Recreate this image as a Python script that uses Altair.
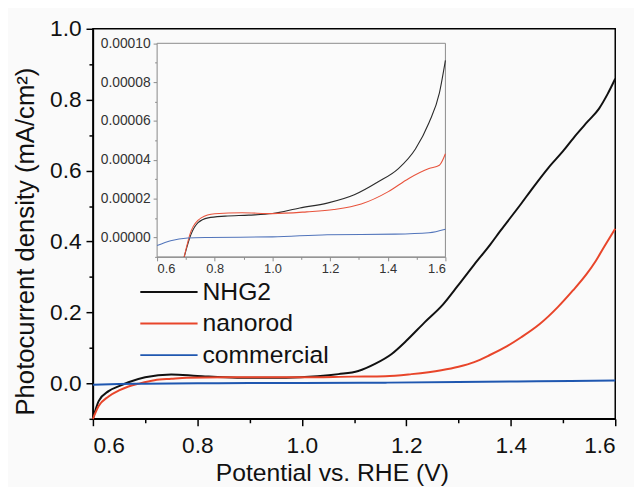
import altair as alt
import pandas as pd

# ---------------- main panel data ----------------
nhg2_v = [0.6, 0.611, 0.63, 0.65, 0.668, 0.70, 0.75, 0.80, 0.876, 0.97, 1.03, 1.07, 1.108, 1.14,
          1.172, 1.2, 1.235, 1.27, 1.298, 1.33, 1.361, 1.38, 1.418, 1.443, 1.472, 1.50, 1.525,
          1.547, 1.569, 1.585, 1.60]
nhg2_j = [-0.10, -0.05, -0.022, -0.008, 0.003, 0.017, 0.025, 0.021, 0.016, 0.016, 0.020, 0.026,
          0.035, 0.055, 0.083, 0.12, 0.172, 0.222, 0.274, 0.335, 0.392, 0.43, 0.503, 0.553,
          0.608, 0.655, 0.701, 0.738, 0.775, 0.815, 0.859]

nano_v = [0.6, 0.611, 0.63, 0.65, 0.668, 0.69, 0.718, 0.75, 0.78, 0.85, 0.91, 1.0, 1.097, 1.16,
          1.21, 1.267, 1.30, 1.33, 1.36, 1.393, 1.42, 1.456, 1.49, 1.519, 1.545, 1.563, 1.58, 1.60]
nano_j = [-0.10, -0.064, -0.037, -0.02, -0.009, 0.0, 0.009, 0.013, 0.016, 0.017, 0.017, 0.017,
          0.019, 0.020, 0.026, 0.037, 0.047, 0.060, 0.08, 0.105, 0.13, 0.168, 0.215, 0.262, 0.308,
          0.346, 0.388, 0.436]

comm_v = [0.6, 0.65, 0.7, 0.8, 0.9, 1.0, 1.16, 1.3, 1.45, 1.6]
comm_j = [-0.004, -0.002, -0.001, 0.0, 0.001, 0.001, 0.002, 0.004, 0.006, 0.008]

# ---------------- inset data ----------------
in_nhg2_v = [0.694, 0.718, 0.742, 0.777, 0.836, 0.918, 1.0, 1.095, 1.19, 1.284, 1.367, 1.437,
             1.496, 1.543, 1.579, 1.60]
in_nhg2_j = [-0.0000100, 0.0000017, 0.0000076, 0.0000101, 0.0000110, 0.0000115, 0.0000123,
             0.0000152, 0.0000177, 0.0000220, 0.0000287, 0.0000355, 0.0000456, 0.0000591,
             0.0000743, 0.0000912]

in_nano_v = [0.694, 0.718, 0.753, 0.80, 0.895, 1.0, 1.119, 1.213, 1.308, 1.402, 1.473, 1.543,
             1.579, 1.60]
in_nano_j = [-0.0000100, 0.0000034, 0.0000101, 0.0000122, 0.0000127, 0.0000123, 0.0000132,
             0.0000144, 0.0000172, 0.0000236, 0.0000304, 0.0000355, 0.0000372, 0.0000431]

in_comm_v = [0.6, 0.647, 0.706, 0.777, 1.0, 1.19, 1.425, 1.543, 1.6]
in_comm_j = [-0.0000042, -0.0000017, -0.0000003, 0.0, 0.0000003, 0.0000014, 0.0000017,
             0.0000024, 0.0000042]

series = ["NHG2", "nanorod", "commercial"]
main_colors = ["#111111", "#e8452a", "#1f57b0"]
inset_colors = ["#2a2a2a", "#e8533c", "#5275bb"]

main_x_domain = [0.6, 1.6]
main_y_domain = [-0.1, 1.0]
main_x_ticks = [0.6, 0.7, 0.8, 0.9, 1.0, 1.1, 1.2, 1.3, 1.4, 1.5, 1.6]
main_y_ticks = [-0.1, 0.0, 0.1, 0.2, 0.3, 0.4, 0.5, 0.6, 0.7, 0.8, 0.9, 1.0]

inset_x_domain = [0.6, 1.6]
inset_y_domain = [-0.00001, 0.0001]
inset_x_ticks = [0.6, 0.7, 0.8, 0.9, 1.0, 1.1, 1.2, 1.3, 1.4, 1.5, 1.6]
inset_y_ticks = [-0.00001, 0.0, 0.00001, 0.00002, 0.00003, 0.00004, 0.00005, 0.00006,
                 0.00007, 0.00008, 0.00009, 0.0001]


def long(vs, js, name):
    return pd.DataFrame({"V": vs, "J": js, "series": name, "order": range(len(vs))})


main_df = pd.concat([
    long(nhg2_v, nhg2_j, "NHG2"),
    long(nano_v, nano_j, "nanorod"),
    long(comm_v, comm_j, "commercial"),
])
inset_df = pd.concat([
    long(in_nhg2_v, in_nhg2_j, "NHG2"),
    long(in_nano_v, in_nano_j, "nanorod"),
    long(in_comm_v, in_comm_j, "commercial"),
])
frame_df = pd.DataFrame({"x0": [inset_x_domain[0]], "x1": [inset_x_domain[1]],
                         "y0": [inset_y_domain[0]], "y1": [inset_y_domain[1]]})

W, H = 529, 395
FONT = "Liberation Sans"

main_major_x = "round(datum.value*10) % 2 === 0"
main = alt.Chart(main_df).mark_line(strokeWidth=2, interpolate="monotone").encode(
    x=alt.X("V:Q", scale=alt.Scale(domain=main_x_domain, nice=False, zero=False),
            axis=alt.Axis(values=main_x_ticks, title="Potential vs. RHE (V)",
                          labelExpr=f"{main_major_x} ? format(datum.value, '.1f') : ''",
                          tickSize={"condition": {"test": main_major_x, "value": 7}, "value": 4},
                          grid=False, domainColor="#000", domainWidth=1.5, tickColor="#000",
                          tickWidth=1.5, labelFontSize=23, labelColor="#111", labelPadding=9,
                          titleFontSize=25, titleFontWeight="normal", titleColor="#111",
                          titleX=242, titleY=62, titleBaseline="alphabetic", titleAlign="center",
                          labelFont=FONT, titleFont=FONT)),
    y=alt.Y("J:Q", scale=alt.Scale(domain=main_y_domain, nice=False, zero=False),
            axis=alt.Axis(values=main_y_ticks, title="Photocurrent density (mA/cm²)",
                          labelExpr=f"{main_major_x} ? format(datum.value, '.1f') : ''",
                          tickSize={"condition": {"test": main_major_x, "value": 7}, "value": 4},
                          grid=False, domainColor="#000", domainWidth=1.5, tickColor="#000",
                          tickWidth=1.5, labelFontSize=23, labelColor="#111", labelPadding=5,
                          titleFontSize=26, titleFontWeight="normal", titleColor="#111",
                          titleX=-68, titleY=215, titleBaseline="middle", titleAlign="center",
                          titleAngle=270, labelFont=FONT, titleFont=FONT)),
    color=alt.Color("series:N", scale=alt.Scale(domain=series, range=main_colors),
                    legend=alt.Legend(title=None, orient="none", legendX=47, legendY=254,
                                      symbolType="stroke", symbolSize=3364, symbolStrokeWidth=2,
                                      labelFontSize=25, labelFont=FONT, labelColor="#111",
                                      clipHeight=25, rowPadding=6, labelOffset=4, padding=0)),
    order="order:Q",
)

INX = [65, 357]
INY = [231, 14.7]
in_x_scale = alt.Scale(domain=inset_x_domain, range=INX, nice=False, zero=False)
in_y_scale = alt.Scale(domain=inset_y_domain, range=INY, nice=False, zero=False)
in_major_y = "round(datum.value*100000) % 2 === 0"

in_x_axis = alt.Axis(values=inset_x_ticks, title=None, orient="bottom", offset=INY[0] - H,
                     labelExpr=f"{main_major_x} ? format(datum.value, '.1f') : ''",
                     tickSize={"condition": {"test": main_major_x, "value": 4}, "value": 2.5},
                     grid=False, domainColor="#8a8a8a", tickColor="#8a8a8a",
                     labelFontSize=13, labelColor="#333", labelPadding=2, labelFont=FONT)
in_y_axis = alt.Axis(values=inset_y_ticks, title=None, orient="left", offset=-INX[0],
                     labelExpr=f"{in_major_y} ? format(datum.value, '.5f') : ''",
                     tickSize={"condition": {"test": in_major_y, "value": 4}, "value": 2.5},
                     grid=False, domainColor="#8a8a8a", tickColor="#8a8a8a",
                     labelFontSize=14, labelColor="#333", labelPadding=3, labelFont=FONT)

frame = alt.Chart(frame_df).mark_rect(fill="#fbfbfb", stroke="#8a8a8a", strokeWidth=1).encode(
    x=alt.X("x0:Q", scale=in_x_scale, axis=in_x_axis),
    x2="x1:Q",
    y=alt.Y("y0:Q", scale=in_y_scale, axis=in_y_axis),
    y2="y1:Q",
)
inset_lines = alt.Chart(inset_df).mark_line(strokeWidth=1.1, interpolate="monotone").encode(
    x=alt.X("V:Q", scale=in_x_scale, axis=in_x_axis),
    y=alt.Y("J:Q", scale=in_y_scale, axis=in_y_axis),
    color=alt.Color("series:N", scale=alt.Scale(domain=series, range=inset_colors), legend=None),
    order="order:Q",
)
inset = alt.layer(frame, inset_lines)

chart = alt.layer(main, inset).resolve_scale(
    x="independent", y="independent", color="independent"
).properties(
    width=W, height=H,
    autosize=alt.AutoSizeParams(type="none"),
    padding={"left": 86, "top": 18, "right": 19, "bottom": 66},
    background="#fafafa",
).configure_view(stroke="#000", strokeWidth=1.5).configure_axis(labelFont=FONT, titleFont=FONT)

chart.save("out.html", embed_options={"renderer": "svg", "actions": False})
